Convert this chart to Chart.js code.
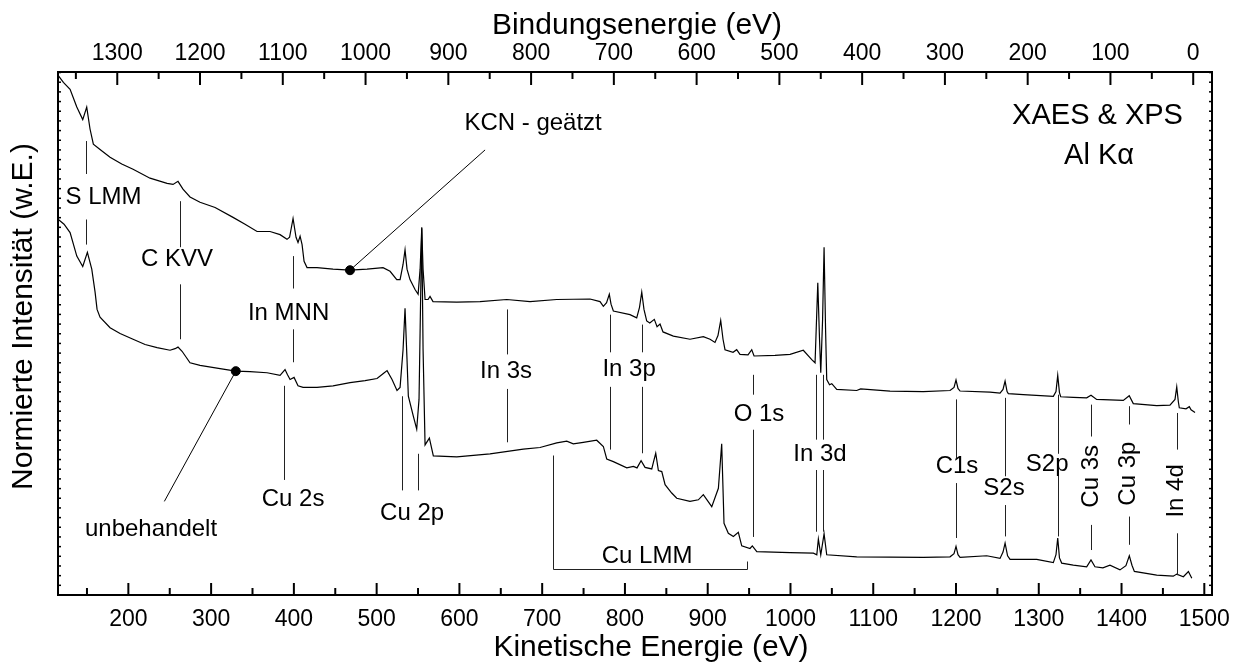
<!DOCTYPE html>
<html lang="de">
<head>
<meta charset="utf-8">
<title>XAES &amp; XPS Übersichtsspektren</title>
<script src="https://cdn.jsdelivr.net/npm/chart.js@4.4.1/dist/chart.umd.min.js"></script>
<style>
	html, body { margin: 0; padding: 0; background: #fff; }
	#wrap { width: 1243px; height: 666px; }
</style>
</head>
<body>
<div id="wrap"><canvas id="spectrum" width="1243" height="666"></canvas></div>
<script>
// Survey spectra, kinetic energy (eV) vs. normalised intensity (a.u., 0..100)
const etchedKE = [
	115.4, 121.5, 129.6, 137.7, 144.9, 149.7, 153.7, 157.7, 165.8, 177.9,
	192.0, 205.7, 226.2, 246.8, 254.0, 260.0, 266.0, 274.5, 286.6, 304.8,
	326.5, 341.0, 355.5, 371.2, 383.3, 391.7, 394.8, 399.0, 402.6, 405.0,
	407.5, 409.9, 412.3, 415.9, 428.0, 447.3, 467.8, 488.4, 507.7, 516.2,
	524.3, 528.3, 531.9, 534.3, 536.7, 540.3, 546.4, 550.1, 552.5, 554.5,
	556.1, 558.5, 562.1, 564.5, 568.1, 596.8, 624.9, 657.2, 685.3, 717.6,
	757.8, 769.9, 773.9, 777.8, 781.1, 783.2, 786.0, 806.1, 814.2, 817.6,
	820.3, 823.0, 826.3, 830.0, 835.5, 838.8, 842.4, 846.0, 858.5, 878.6,
	894.7, 902.8, 908.8, 912.4, 915.7, 918.5, 920.9, 930.6, 935.0, 939.0,
	948.7, 953.2, 956.0, 981.3, 999.5, 1015.5, 1025.7, 1029.7, 1033.0, 1035.1,
	1036.6, 1038.8, 1040.6, 1042.4, 1043.8, 1047.2, 1049.9, 1055.9, 1080.0, 1084.8,
	1120.3, 1160.5, 1192.8, 1197.6, 1200.0, 1202.4, 1204.9, 1241.1, 1253.2, 1256.8,
	1259.3, 1261.7, 1263.2, 1281.3, 1317.6, 1320.8, 1322.9, 1325.0, 1326.5, 1341.7,
	1357.9, 1363.1, 1369.9, 1402.1, 1409.3, 1414.2, 1442.5, 1458.5, 1464.6, 1466.7,
	1468.6, 1469.8, 1477.9, 1481.9, 1484.0, 1488.8
];
const etchedI = [
	99.3, 98.0, 96.7, 93.3, 90.9, 93.3, 89.1, 86.2, 85.2, 83.7,
	82.4, 81.4, 79.7, 78.7, 78.5, 79.1, 77.6, 76.1, 75.1, 74.1,
	72.2, 70.9, 69.5, 69.5, 68.9, 68.0, 68.4, 72.0, 68.4, 67.4,
	68.6, 67.0, 63.8, 62.6, 62.6, 62.3, 62.1, 62.3, 62.6, 61.9,
	60.3, 60.3, 63.2, 66.0, 62.3, 60.3, 58.4, 57.5, 62.3, 70.1,
	62.3, 56.5, 56.5, 57.1, 56.1, 56.0, 56.1, 56.5, 56.1, 56.5,
	56.6, 56.1, 55.2, 55.9, 57.5, 55.6, 54.3, 53.6, 53.0, 55.0,
	57.9, 54.6, 52.4, 52.0, 52.7, 51.3, 51.8, 50.3, 49.5, 48.9,
	49.4, 48.9, 48.3, 49.6, 52.5, 48.9, 46.9, 46.4, 46.9, 46.0,
	45.9, 46.9, 45.7, 45.8, 46.0, 46.8, 45.0, 44.4, 59.7, 48.9,
	42.5, 52.7, 66.5, 50.8, 41.2, 40.2, 40.4, 39.3, 39.1, 39.4,
	39.0, 38.9, 39.1, 39.7, 41.1, 39.5, 39.0, 38.8, 38.6, 39.3,
	40.9, 38.9, 38.5, 38.3, 38.0, 38.9, 42.0, 38.7, 37.9, 37.8,
	37.7, 38.2, 37.4, 37.2, 38.1, 36.6, 36.2, 36.3, 37.4, 39.8,
	37.0, 35.8, 35.6, 36.0, 35.4, 34.9
];
const untreatedKE = [
	115.4, 122.3, 129.6, 137.7, 144.9, 150.5, 155.8, 159.8, 162.2, 165.8,
	177.9, 190.0, 205.7, 220.2, 234.7, 250.4, 256.4, 260.0, 264.9, 274.5,
	286.6, 310.8, 329.8, 347.0, 367.6, 383.3, 389.3, 392.3, 395.4, 400.2,
	405.0, 411.1, 428.0, 447.3, 467.9, 486.0, 500.5, 507.7, 512.6, 518.6,
	524.6, 528.3, 531.9, 534.3, 536.7, 538.3, 544.3, 548.4, 551.2, 554.5,
	556.1, 558.5, 563.7, 568.5, 596.8, 637.0, 677.2, 697.4, 717.6, 729.7,
	737.6, 749.7, 765.9, 773.9, 778.0, 786.0, 802.2, 810.2, 814.6, 819.5,
	824.3, 832.4, 834.6, 837.2, 840.4, 844.5, 848.5, 856.5, 862.6, 878.6,
	888.7, 894.7, 904.9, 912.9, 916.9, 919.7, 924.9, 931.0, 937.0, 941.1,
	951.1, 953.9, 959.3, 999.5, 1027.7, 1031.8, 1033.7, 1036.6, 1040.6, 1043.8,
	1080.0, 1160.5, 1192.8, 1197.6, 1200.0, 1202.4, 1204.9, 1237.1, 1253.2, 1256.8,
	1259.3, 1262.3, 1265.3, 1297.5, 1317.6, 1320.8, 1322.9, 1325.0, 1327.7, 1341.7,
	1357.9, 1363.1, 1367.9, 1377.5, 1386.0, 1398.1, 1405.3, 1409.4, 1412.6, 1415.5,
	1442.5, 1462.5, 1466.7, 1474.7, 1480.8, 1484.9
];
const untreatedI = [
	71.8, 70.9, 69.3, 64.8, 62.8, 65.5, 62.3, 57.9, 54.6, 53.1,
	51.1, 50.0, 48.9, 47.9, 47.3, 46.8, 47.1, 47.4, 46.6, 44.4,
	43.9, 43.3, 42.8, 42.7, 42.5, 42.0, 43.1, 42.1, 41.2, 41.6,
	40.0, 39.7, 39.7, 40.0, 40.6, 41.0, 41.4, 42.3, 42.9, 41.2,
	39.1, 39.7, 46.9, 54.8, 45.0, 38.0, 34.2, 31.7, 37.4, 70.3,
	46.9, 28.7, 30.0, 26.6, 26.4, 27.0, 27.9, 28.2, 29.1, 29.4,
	28.9, 29.2, 29.6, 28.4, 26.0, 25.5, 24.3, 24.6, 24.3, 25.7,
	24.4, 24.1, 25.5, 27.1, 23.8, 23.6, 21.1, 19.5, 18.5, 17.9,
	18.2, 19.2, 16.9, 20.4, 28.9, 13.7, 11.8, 11.2, 12.0, 9.4,
	8.9, 9.4, 8.3, 8.1, 8.0, 7.7, 10.7, 7.7, 11.7, 7.7,
	7.3, 7.2, 7.3, 7.9, 9.3, 7.7, 7.2, 7.5, 7.0, 8.2,
	9.9, 7.5, 6.8, 6.8, 6.2, 7.7, 10.9, 7.1, 6.1, 5.7,
	5.4, 6.7, 5.4, 5.2, 5.7, 4.8, 5.6, 7.5, 5.7, 4.5,
	3.8, 3.6, 4.0, 3.5, 4.5, 3.2
];

// dots that tie the sample names to their curves
const markerKE = [467.8, 329.8];
const markerI = [62.1, 42.8];

// axis ticks: kinetic energy below, binding energy above
const keTicks = [200, 300, 400, 500, 600, 700, 800, 900, 1000, 1100, 1200, 1300, 1400, 1500];
const beTicks = [0, 100, 200, 300, 400, 500, 600, 700, 800, 900, 1000, 1100, 1200, 1300];

// peak assignment lines: [KE, from, to] in intensity units
const peakLines = [
	[148.9, 86.8, 80.5], [148.9, 71.8, 67.0],
	[262.5, 75.3, 66.5], [262.5, 59.4, 48.9],
	[399.4, 64.8, 58.6], [399.4, 50.8, 44.5],
	[388.5, 40.0, 22.0],
	[531.0, 38.0, 20.0], [550.4, 27.0, 20.0],
	[657.2, 54.6, 46.0], [657.2, 39.4, 29.2],
	[782.0, 53.6, 46.4], [782.0, 39.8, 27.8], [820.3, 51.7, 46.4], [820.3, 39.8, 27.1],
	[954.8, 42.1, 38.3], [954.8, 31.6, 11.1],
	[1030.5, 42.1, 29.7], [1030.5, 23.9, 12.1], [1039.7, 42.1, 29.7], [1039.7, 23.9, 12.1],
	[1200.0, 37.4, 26.2], [1200.0, 21.4, 10.9],
	[1259.2, 37.7, 22.7], [1259.2, 17.2, 11.2],
	[1322.9, 38.3, 27.0], [1322.9, 22.8, 11.2],
	[1363.1, 36.4, 30.3], [1363.1, 13.4, 8.6],
	[1409.4, 36.1, 32.6], [1409.4, 15.0, 9.6],
	[1466.7, 34.8, 27.8], [1466.7, 11.8, 3.8]
];
// Cu LMM range bracket and the two leader lines
const cuLmmBracket = [[713.5, 26.8], [713.5, 4.9], [947.2, 4.9], [947.2, 6.5]];
const leaders = [
	[[467.8, 62.1], [631.0, 85.1]],
	[[329.8, 42.8], [243.5, 17.9]]
];
// text labels: [text, KE, intensity, vertical]
const peakLabels = [
	['S LMM', 170.0, 76.1, false],
	['C KVV', 258.8, 64.2, false],
	['In MNN', 393.6, 53.8, false],
	['KCN - geätzt', 689.0, 90.2, false],
	['unbehandelt', 227.4, 12.5, false],
	['Cu 2s', 399.0, 18.2, false],
	['Cu 2p', 542.8, 15.6, false],
	['In 3s', 656.3, 42.8, false],
	['In 3p', 805.0, 43.1, false],
	['O 1s', 962.0, 34.5, false],
	['Cu LMM', 826.7, 7.3, false],
	['In 3d', 1035.7, 26.8, false],
	['C1s', 1201.2, 24.6, false],
	['S2s', 1258.0, 20.4, false],
	['S2p', 1310.1, 24.9, false],
	['Cu 3s', 1363.1, 22.7, true],
	['Cu 3p', 1408.2, 23.2, true],
	['In 4d', 1466.7, 19.9, true]
];
const infoLabels = [
	['XAES & XPS', 1371.0, 91.6],
	['Al Kα', 1372.8, 84.0]
];

const FONT = 'Arial, "Liberation Sans", Helvetica, sans-serif';
const HV = 1486.6; // Al K-alpha photon energy, BE = HV - KE
const KE_MIN = 115, KE_MAX = 1509.3;

const toPoints = (xs, ys) => xs.map((x, i) => ({ x, y: ys[i] }));

// inward tick marks on all four sides of the frame
const frameTicks = {
	id: 'frameTicks',
	afterDatasetsDraw(chart) {
		const { ctx, chartArea: a, scales } = chart;
		const mark = (x1, y1, x2, y2) => { ctx.beginPath(); ctx.moveTo(x1, y1); ctx.lineTo(x2, y2); ctx.stroke(); };
		ctx.save();
		ctx.strokeStyle = '#000';
		ctx.lineWidth = 2;
		keTicks.forEach(v => {
			const p = scales.x.getPixelForValue(v);
			mark(p, a.bottom, p, a.bottom - 12);
			const m = scales.x.getPixelForValue(v - 50);
			if (v - 50 > KE_MIN) mark(m, a.bottom, m, a.bottom - 7);
		});
		beTicks.forEach(v => {
			const p = scales.xTop.getPixelForValue(v);
			mark(p, a.top, p, a.top + 13);
			const m = scales.xTop.getPixelForValue(v + 50);
			if (v + 50 < HV - KE_MIN) mark(m, a.top, m, a.top + 7);
		});
		ctx.lineWidth = 1.5;
		for (let v = 1.85; v < 100; v += 1.85) {
			const p = scales.y.getPixelForValue(v);
			mark(a.left, p, a.left + 3, p);
			mark(a.right, p, a.right - 3, p);
		}
		ctx.restore();
	}
};

// peak assignments, bracket, leader lines and labels
const annotate = {
	id: 'annotate',
	afterDatasetsDraw(chart) {
		const { ctx, scales: { x, y } } = chart;
		const px = v => x.getPixelForValue(v);
		const py = v => y.getPixelForValue(v);
		ctx.save();
		ctx.strokeStyle = '#222';
		ctx.lineWidth = 1;
		peakLines.forEach(([ke, a, b]) => {
			const xx = Math.round(px(ke)) + 0.5;
			ctx.beginPath(); ctx.moveTo(xx, py(a)); ctx.lineTo(xx, py(b)); ctx.stroke();
		});
		ctx.beginPath();
		cuLmmBracket.forEach(([ke, v], i) => {
			const xx = Math.round(px(ke)) + 0.5, yy = Math.round(py(v)) + 0.5;
			i ? ctx.lineTo(xx, yy) : ctx.moveTo(xx, yy);
		});
		ctx.stroke();
		ctx.strokeStyle = '#000';
		leaders.forEach(([p0, p1]) => {
			ctx.beginPath(); ctx.moveTo(px(p0[0]), py(p0[1])); ctx.lineTo(px(p1[0]), py(p1[1])); ctx.stroke();
		});

		ctx.fillStyle = '#000';
		ctx.textAlign = 'center';
		ctx.textBaseline = 'middle';
		ctx.font = `24px ${FONT}`;
		peakLabels.forEach(([txt, ke, v, vertical]) => {
			ctx.save();
			ctx.translate(px(ke), py(v));
			if (vertical) ctx.rotate(-Math.PI / 2);
			ctx.fillText(txt, 0, 0);
			ctx.restore();
		});
		ctx.font = `29px ${FONT}`;
		infoLabels.forEach(([txt, ke, v]) => ctx.fillText(txt, px(ke), py(v)));
		ctx.restore();
	}
};

// axis titles
const axisTitles = {
	id: 'axisTitles',
	afterDraw(chart) {
		const { ctx, chartArea: a } = chart;
		const cx = (a.left + a.right) / 2;
		ctx.save();
		ctx.fillStyle = '#000';
		ctx.textAlign = 'center';
		ctx.textBaseline = 'middle';
		ctx.font = `30px ${FONT}`;
		ctx.fillText('Bindungsenergie (eV)', cx + 2, 26);
		ctx.fillText('Kinetische Energie (eV)', cx + 16, a.bottom + 53);
		ctx.translate(24, (a.top + a.bottom) / 2 - 17);
		ctx.rotate(-Math.PI / 2);
		ctx.fillText('Normierte Intensität (w.E.)', 0, 0);
		ctx.restore();
	}
};

const noGrid = { display: false, drawTicks: false };
const frame = { display: true, color: '#000', width: 2 };

new Chart(document.getElementById('spectrum'), {
	type: 'line',
	data: {
		datasets: [
			{
				label: 'KCN - geätzt',
				data: toPoints(etchedKE, etchedI),
				borderColor: '#000',
				borderWidth: 1.2,
				pointRadius: 0,
				tension: 0
			},
			{
				label: 'unbehandelt',
				data: toPoints(untreatedKE, untreatedI),
				borderColor: '#000',
				borderWidth: 1.2,
				pointRadius: 0,
				tension: 0
			},
			{
				type: 'scatter',
				label: 'Marker',
				data: toPoints(markerKE, markerI),
				pointRadius: 4.5,
				backgroundColor: '#000',
				borderColor: '#000'
			}
		]
	},
	options: {
		responsive: false,
		animation: false,
		devicePixelRatio: 1,
		layout: { padding: 0 },
		plugins: { legend: { display: false }, tooltip: { enabled: false } },
		scales: {
			x: {
				type: 'linear',
				position: 'bottom',
				min: KE_MIN,
				max: KE_MAX,
				afterBuildTicks: s => { s.ticks = keTicks.map(value => ({ value })); },
				afterFit: s => { s.height = 71; },
				grid: noGrid,
				border: frame,
				ticks: {
					font: { family: FONT, size: 23 },
					color: '#000',
					padding: 11,
					maxRotation: 0,
					autoSkip: false,
					callback: v => String(v)
				}
			},
			xTop: {
				type: 'linear',
				position: 'top',
				reverse: true,
				min: HV - KE_MAX,
				max: HV - KE_MIN,
				afterBuildTicks: s => { s.ticks = beTicks.map(value => ({ value })); },
				afterFit: s => { s.height = 72; },
				grid: noGrid,
				border: frame,
				ticks: {
					font: { family: FONT, size: 23 },
					color: '#000',
					padding: 5,
					maxRotation: 0,
					autoSkip: false,
					callback: v => String(Math.round(v))
				}
			},
			y: {
				type: 'linear',
				position: 'left',
				min: 0,
				max: 100,
				afterFit: s => { s.width = 58; },
				grid: noGrid,
				border: frame,
				ticks: { display: false }
			},
			yRight: {
				type: 'linear',
				position: 'right',
				min: 0,
				max: 100,
				afterFit: s => { s.width = 31; },
				grid: noGrid,
				border: frame,
				ticks: { display: false }
			}
		}
	},
	plugins: [frameTicks, annotate, axisTitles]
});
</script>
</body>
</html>
